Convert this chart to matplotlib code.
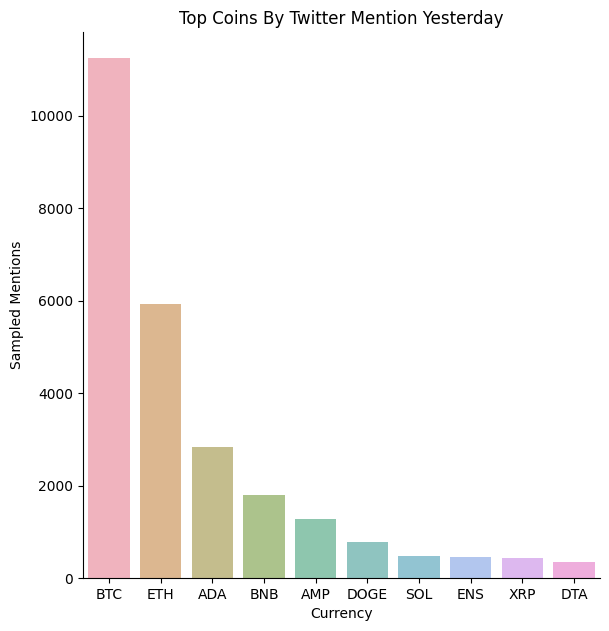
import matplotlib
matplotlib.use("Agg")
import matplotlib.pyplot as plt
import seaborn as sns

currencies = ["BTC", "ETH", "ADA", "BNB", "AMP", "DOGE", "SOL", "ENS", "XRP", "DTA"]
mentions = [11253, 5940, 2829, 1793, 1274, 778, 475, 454, 432, 346]

fig = plt.figure(figsize=(6.09, 6.31), dpi=100)
ax = fig.add_axes([83/609, 1-578/631, 517/609, 546/631])
sns.barplot(x=currencies, y=mentions, hue=currencies, palette="husl", alpha=0.6, ax=ax, legend=False)
ax.set_xlabel("Currency")
ax.set_ylabel("Sampled Mentions")
ax.set_title("Top Coins By Twitter Mention Yesterday")
ax.spines["top"].set_visible(False)
ax.spines["right"].set_visible(False)
fig.savefig("out.png", dpi=100)
